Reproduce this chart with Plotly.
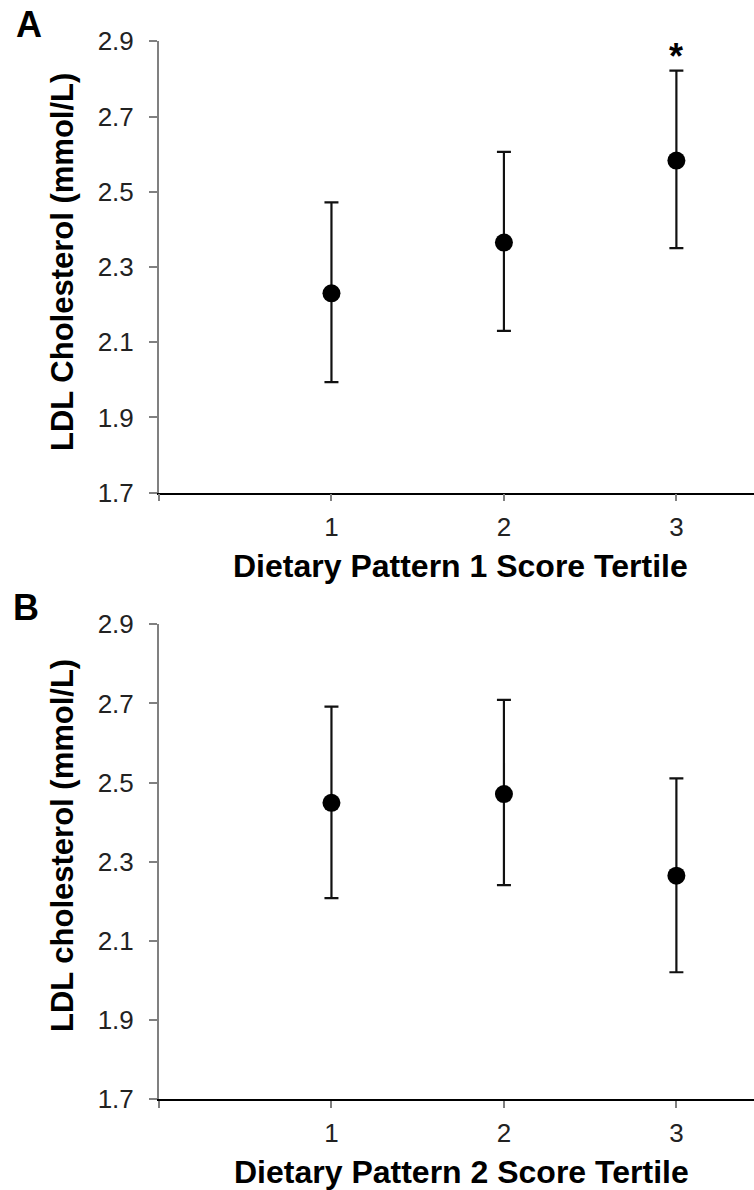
import plotly.graph_objects as go

W, H = 754, 1190

tertiles = [1, 2, 3]
tick_labels = ["1", "2", "3"]

# Panel A: Dietary Pattern 1
a_means = [2.230, 2.365, 2.583]
a_err_plus = [0.242, 0.241, 0.239]
a_err_minus = [0.236, 0.235, 0.233]

# Panel B: Dietary Pattern 2
b_means = [2.449, 2.471, 2.265]
b_err_plus = [0.243, 0.238, 0.246]
b_err_minus = [0.241, 0.230, 0.244]

y_ticks = [1.7, 1.9, 2.1, 2.3, 2.5, 2.7, 2.9]
y_tick_text = ["1.7", "1.9", "2.1", "2.3", "2.5", "2.7", "2.9"]

FONT = "Liberation Sans, Arial, sans-serif"

fig = go.Figure()

def add_panel(means, ep, em, xa, ya):
    fig.add_trace(go.Scatter(
        x=tertiles, y=means, mode="markers",
        marker=dict(size=18, color="black"),
        error_y=dict(type="data", symmetric=False, array=ep, arrayminus=em,
                     color="#111111", thickness=2.2, width=7),
        xaxis=xa, yaxis=ya, showlegend=False, cliponaxis=False,
    ))

add_panel(a_means, a_err_plus, a_err_minus, "x", "y")
add_panel(b_means, b_err_plus, b_err_minus, "x2", "y2")

x0 = 159 / W
domA = [1 - 492.7 / H, 1 - 41.3 / H]
domB = [1 - 1099.3 / H, 1 - 624.3 / H]

xcommon = dict(
    range=[0, 3.45], domain=[x0, 1], tickvals=[0] + tertiles, ticktext=[""] + tick_labels,
    showline=True, linecolor="black", linewidth=1.5, ticks="outside", ticklen=7,
    tickcolor="#808080", tickwidth=1.5, showgrid=False, zeroline=False,
    tickfont=dict(family=FONT, size=26, color="#222222"), automargin=False,
    ticklabelstandoff=3,
)
ycommon = dict(
    range=[1.7, 2.9], tickvals=y_ticks, ticktext=y_tick_text,
    showline=True, linecolor="#808080", linewidth=2, ticks="outside", ticklen=8,
    tickcolor="#808080", tickwidth=1.5, showgrid=False, zeroline=False,
    tickfont=dict(family=FONT, size=26, color="#222222"), automargin=False,
    ticklabelstandoff=10,
)

fig.update_layout(
    width=W, height=H, margin=dict(l=0, r=0, t=0, b=0),
    paper_bgcolor="white", plot_bgcolor="white",
    xaxis=dict(**xcommon, anchor="y"),
    yaxis=dict(**ycommon, domain=domA, anchor="x"),
    xaxis2=dict(**xcommon, anchor="y2"),
    yaxis2=dict(**ycommon, domain=domB, anchor="x2"),
)

def px(xp):
    return xp / W

def py(yp):
    return 1 - yp / H

ann = [
    dict(text="<b>A</b>", x=px(29), y=py(24), size=36),
    dict(text="<b>B</b>", x=px(26), y=py(607), size=36),
    dict(text="<b>Dietary Pattern 1 Score Tertile</b>", x=px(460), y=py(566), size=32),
    dict(text="<b>Dietary Pattern 2 Score Tertile</b>", x=px(461), y=py(1172), size=32),
]
for a in ann:
    fig.add_annotation(text=a["text"], x=a["x"], y=a["y"], xref="paper", yref="paper",
                       xanchor="center", yanchor="middle", showarrow=False,
                       font=dict(family=FONT, size=a["size"], color="black"))

fig.add_annotation(text="<b>LDL Cholesterol (mmol/L)</b>", x=px(62), y=py(262),
                   xref="paper", yref="paper", textangle=-90, showarrow=False,
                   xanchor="center", yanchor="middle",
                   font=dict(family=FONT, size=31, color="black"))
fig.add_annotation(text="<b>LDL cholesterol (mmol/L)</b>", x=px(62), y=py(846),
                   xref="paper", yref="paper", textangle=-90, showarrow=False,
                   xanchor="center", yanchor="middle",
                   font=dict(family=FONT, size=31, color="black"))

# significance marker
fig.add_annotation(text="<b>*</b>", x=3, y=2.86, xref="x", yref="y", showarrow=False,
                   xanchor="center", yanchor="middle",
                   font=dict(family=FONT, size=36, color="black"))

fig.write_html("out.html")
